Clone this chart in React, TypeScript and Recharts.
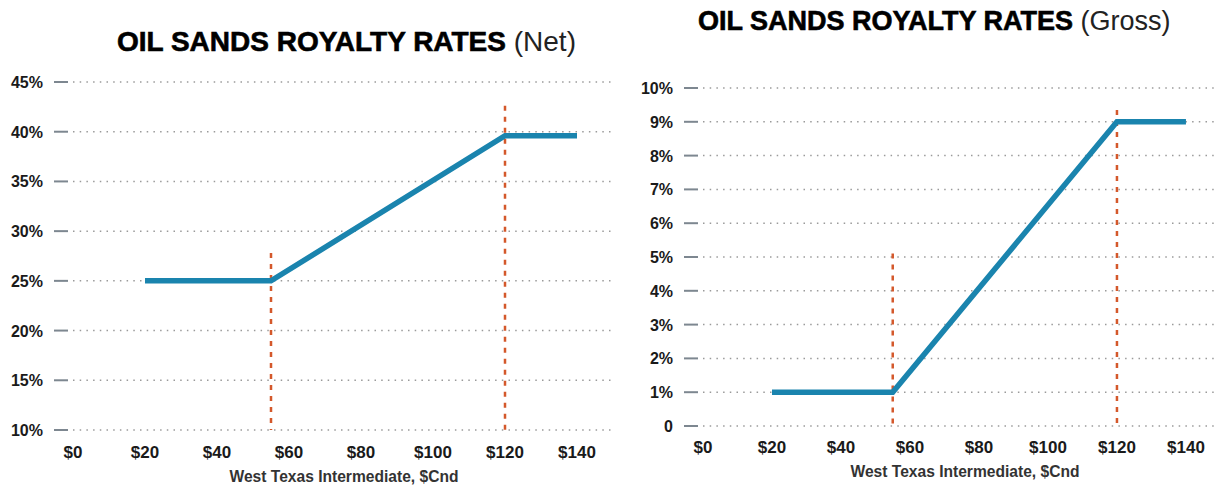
import React from "react"
import { LineChart, Line, XAxis, YAxis, CartesianGrid, ReferenceLine } from "recharts"

// WTI price points where the royalty curve changes ($Cnd)
const prices = [20, 55, 120, 140]
const netRates = [25, 25, 39.6, 39.6]
const grossRates = [1, 1, 9, 9]

const priceTicks = [0, 20, 40, 60, 80, 100, 120, 140]
const netTicks = [10, 15, 20, 25, 30, 35, 40, 45]
const grossTicks = [0, 1, 2, 3, 4, 5, 6, 7, 8, 9, 10]

// the two price thresholds and how high their dashed markers reach
const thresholds = [55, 120]
const netMarkerTops = [27.8, 42.6]
const grossMarkerTops = [5.1, 9.35]

const BLUE = "#1a84ae"
const ORANGE = "#d4582b"
const FONT = "'Liberation Sans', Arial, Helvetica, sans-serif"

const netData = prices.map((p, i) => ({ price: p, rate: netRates[i] }))
const grossData = prices.map((p, i) => ({ price: p, rate: grossRates[i] }))

const YTick = (props: any) => {
  const { x, y, payload, fmt } = props
  return (
    <g>
      <line x1={x - 19} x2={x - 5} y1={y} y2={y} stroke="#7d8790" strokeWidth={2} />
      <text
        x={x - 30}
        y={y}
        dy={6}
        textAnchor="end"
        fontFamily={FONT}
        fontWeight="bold"
        fontSize={16}
        fill="#1a1a1a"
      >
        {fmt(payload.value)}
      </text>
    </g>
  )
}

const XTick = (props: any) => {
  const { x, y, payload, dy } = props
  return (
    <text
      x={x}
      y={y + dy}
      textAnchor="middle"
      fontFamily={FONT}
      fontWeight="bold"
      fontSize={17}
      fill="#1a1a1a"
    >
      ${payload.value}
    </text>
  )
}

interface PanelProps {
  data: { price: number; rate: number }[]
  left: number
  width: number
  top: number
  bottom: number
  plotLeft: number
  plotRight: number
  xMax: number
  yDomain: [number, number]
  yTicks: number[]
  fmt: (v: number) => string
  markerTops: number[]
  labelDy: number
  axisTitleX: number
  axisTitleY: number
  titleBaseline: number
  title: string
  suffix: string
  titleLeft: number
  titleSize: number
}

const Panel = (p: PanelProps) => {
  const height = 485
  return (
    <div style={{ position: "absolute", left: p.left, top: 0, width: p.width, height }}>
      <div
        style={{
          position: "absolute",
          left: p.titleLeft - p.left,
          top: p.titleBaseline - Math.round(p.titleSize * 0.85),
          fontFamily: FONT,
          fontSize: p.titleSize,
          lineHeight: `${p.titleSize}px`,
          whiteSpace: "nowrap",
          color: "#000",
        }}
      >
        <span style={{ fontWeight: "bold", WebkitTextStroke: "0.6px #000" }}>{p.title}</span>
        <span style={{ color: "#222" }}> {p.suffix}</span>
      </div>
      <LineChart
        width={p.width}
        height={height}
        data={p.data}
        margin={{ top: p.top, bottom: height - p.bottom - 30, left: p.plotLeft - p.left - 60, right: p.left + p.width - p.plotRight }}
      >
        <CartesianGrid vertical={false} stroke="#9a9a9a" strokeWidth={1.5} strokeDasharray="1.5 5.2" />
        <XAxis
          dataKey="price"
          type="number"
          domain={[0, p.xMax]}
          ticks={priceTicks}
          interval={0}
          axisLine={false}
          tickLine={false}
          tickSize={0}
          tickMargin={0}
          height={30}
          tick={(t: any) => <XTick {...t} dy={p.labelDy} />}
          label={{
            value: "West Texas Intermediate, $Cnd",
            position: "insideBottom",
            offset: 0,
            content: () => (
              <text
                x={p.axisTitleX - p.left}
                y={p.axisTitleY}
                textAnchor="middle"
                fontFamily={FONT}
                fontWeight="bold"
                fontSize={15.6}
                fill="#333"
              >
                West Texas Intermediate, $Cnd
              </text>
            ),
          }}
        />
        <YAxis
          type="number"
          domain={p.yDomain}
          ticks={p.yTicks}
          interval={0}
          width={60}
          axisLine={false}
          tickLine={false}
          tickSize={0}
          tickMargin={0}
          tick={(t: any) => <YTick {...t} fmt={p.fmt} />}
        />
        {thresholds.map((price, i) => (
          <ReferenceLine
            key={price}
            segment={[
              { x: price, y: p.markerTops[i] },
              { x: price, y: p.yDomain[0] },
            ]}
            stroke={ORANGE}
            strokeWidth={2.5}
            strokeDasharray="5 6"
          />
        ))}
        <Line
          type="linear"
          dataKey="rate"
          stroke={BLUE}
          strokeWidth={5.5}
          dot={false}
          activeDot={false}
          isAnimationActive={false}
        />
      </LineChart>
    </div>
  )
}

export default function App() {
  return (
    <div style={{ position: "absolute", left: 0, top: 0, width: 1217, height: 485, background: "#fff", overflow: "hidden" }}>
      <Panel
        data={netData}
        left={0}
        width={620}
        top={82}
        bottom={430}
        plotLeft={73}
        plotRight={613}
        xMax={150}
        yDomain={[10, 45]}
        yTicks={netTicks}
        fmt={(v) => `${v}%`}
        markerTops={netMarkerTops}
        labelDy={28}
        axisTitleX={344}
        axisTitleY={482}
        titleBaseline={52}
        title="OIL SANDS ROYALTY RATES"
        suffix="(Net)"
        titleLeft={117}
        titleSize={28}
      />
      <Panel
        data={grossData}
        left={620}
        width={597}
        top={88}
        bottom={426}
        plotLeft={703}
        plotRight={1217}
        xMax={149}
        yDomain={[0, 10]}
        yTicks={grossTicks}
        fmt={(v) => (v === 0 ? "0" : `${v}%`)}
        markerTops={grossMarkerTops}
        labelDy={27}
        axisTitleX={965}
        axisTitleY={477}
        titleBaseline={31}
        title="OIL SANDS ROYALTY RATES"
        suffix="(Gross)"
        titleLeft={698}
        titleSize={27}
      />
    </div>
  )
}
